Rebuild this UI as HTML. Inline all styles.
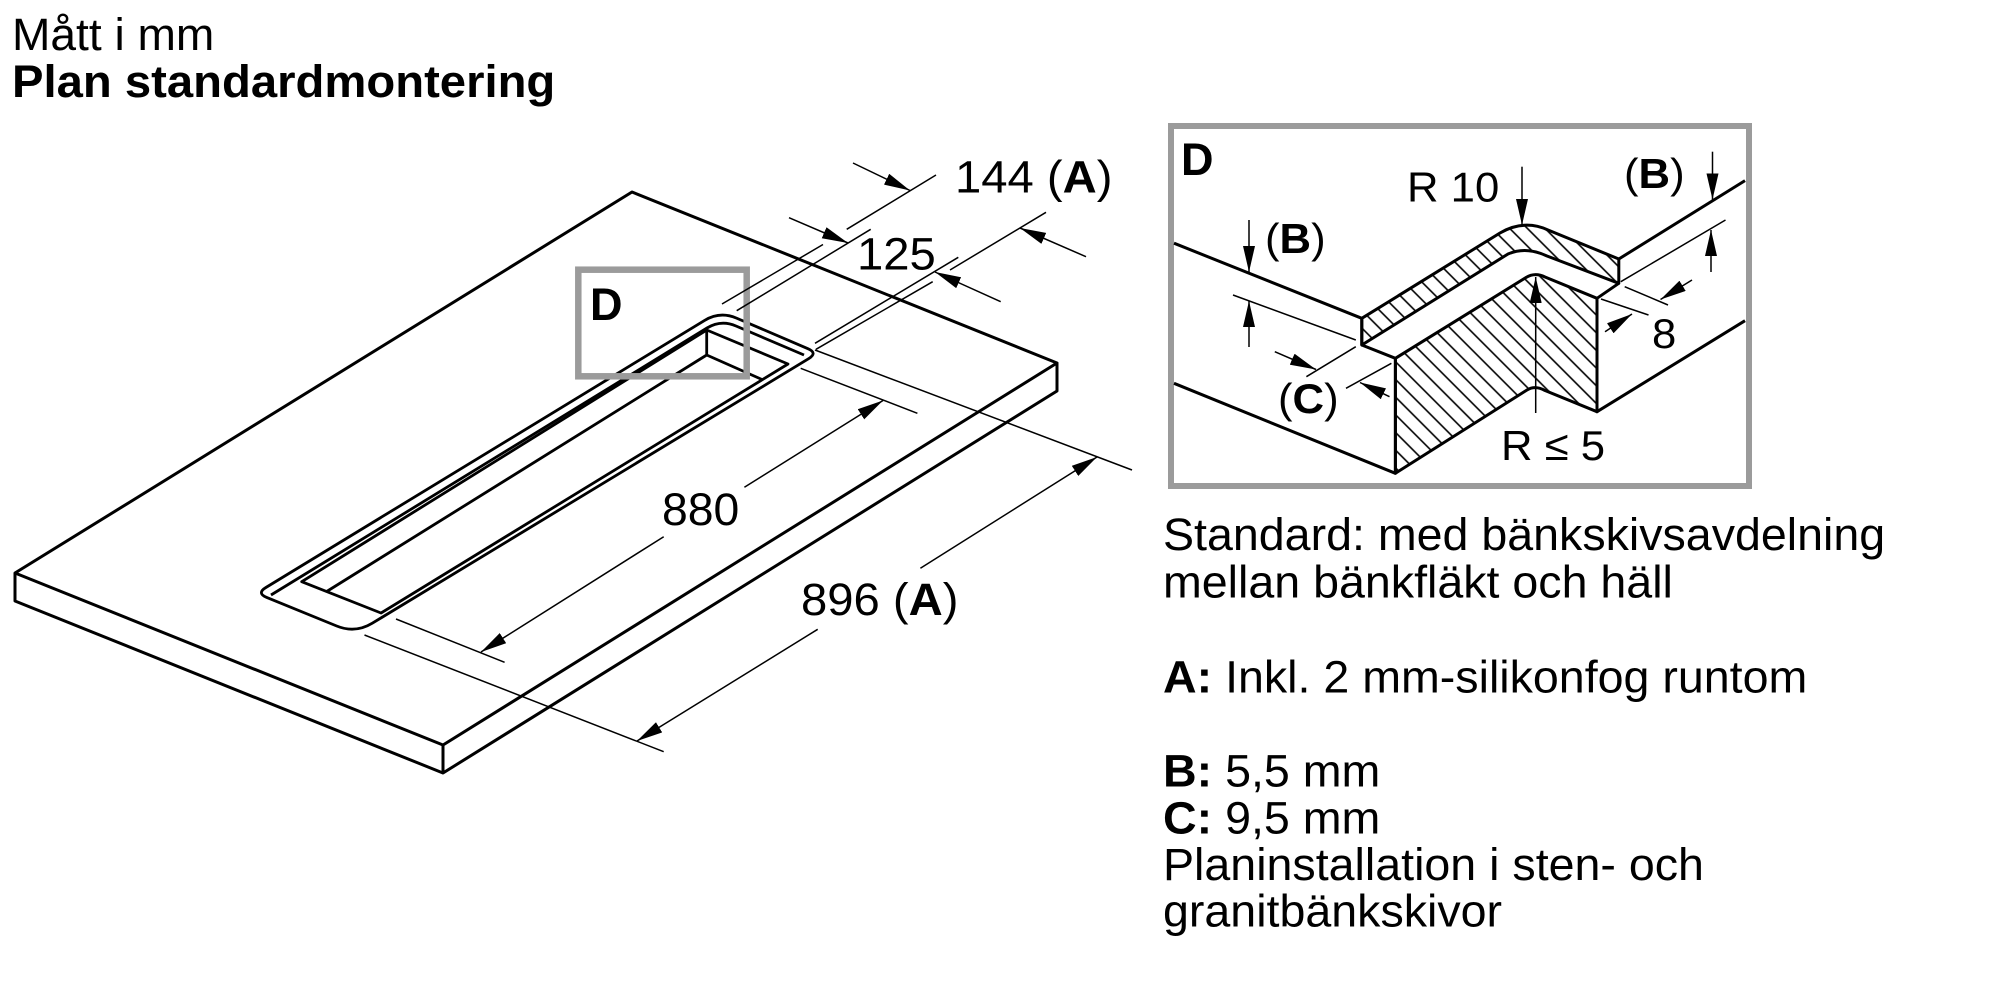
<!DOCTYPE html>
<html><head><meta charset="utf-8"><style>
html,body{margin:0;padding:0;background:#fff;}
svg{display:block}
text{font-family:"Liberation Sans",Arial,sans-serif;fill:#000}
</style></head><body>
<svg width="2000" height="1000" viewBox="0 0 2000 1000" xmlns="http://www.w3.org/2000/svg">
<defs>
<marker id="ah" viewBox="0 0 26 12" refX="26" refY="6" markerWidth="26" markerHeight="12" orient="auto" markerUnits="userSpaceOnUse"><path d="M0,0 L26,6 L0,12 Z" fill="#000"/></marker>
<pattern id="hatch" patternUnits="userSpaceOnUse" width="12.5" height="12.5" patternTransform="rotate(-45)"><line x1="6" y1="-2" x2="6" y2="15" stroke="#000" stroke-width="1.6"/></pattern>
</defs>
<rect width="2000" height="1000" fill="#fff"/>

<!-- Titles -->
<text transform="translate(12,50) scale(1.025,1)" font-size="45">Mått i mm</text>
<text transform="translate(12,97) scale(1.05,1)" font-size="45" font-weight="bold">Plan standardmontering</text>

<!-- Slab -->
<g fill="none" stroke="#000" stroke-width="3" stroke-linejoin="round">
<path d="M15,573 L632,192 L1057,363 L443,745 Z"/>
<path d="M15,573 L15,601 L443,773 L1057,391 L1057,363"/>
<path d="M443,745 L443,773"/>
</g>

<!-- Slot -->
<g fill="none" stroke="#000" stroke-width="2.8" stroke-linejoin="round">
<path d="M266.7,597.4 L336.7,626 Q355.2,633.6 372.3,623.2 L808.6,358.7 Q818,353 807.9,348.7 L736.5,318.1 Q720,311 704.6,320.4 L265.9,587.5 Q256.5,593.2 266.7,597.4 Z"/>
<path d="M271,595 L707,328 Q721,319.5 736,326 L804,355"/>
<path d="M301.7,581.7 L706.7,330 L788,364 L381,613 Z"/>
<path d="M706.7,330 L706.7,355 M326.7,591.5 L706.7,355 L762,379.5"/>
</g>

<!-- small D box -->
<rect x="578.3" y="269.7" width="168.4" height="106.6" fill="none" stroke="#9b9b9b" stroke-width="6.5"/>
<text x="590" y="320" font-size="45" font-weight="bold">D</text>

<!-- Dimension lines -->
<g fill="none" stroke="#000" stroke-width="1.5">
<!-- 144 -->
<path d="M722,304 L823,244.5 M846.7,229.3 L936,175"/>
<path d="M816,349.3 L932.7,281.7 M950,270 L1046,212.3"/>
<path d="M853,163 L910,190.5" marker-end="url(#ah)"/>
<path d="M1086,256.7 L1020,228" marker-end="url(#ah)"/>
<!-- 125 -->
<path d="M736.7,310.7 L870.7,229.3"/>
<path d="M815,343.3 L958.3,257.3"/>
<path d="M789,217.7 L848,243" marker-end="url(#ah)"/>
<path d="M1000.7,301.7 L935,272" marker-end="url(#ah)"/>
<!-- 880 -->
<path d="M800.7,368.3 L917.4,413.3"/>
<path d="M396,619 L504.6,662.3"/>
<path d="M744.4,487.3 L883,400.5" marker-end="url(#ah)"/>
<path d="M663.7,536.7 L481,652" marker-end="url(#ah)"/>
<!-- 896 -->
<path d="M815,350 L1132,470"/>
<path d="M364.5,635 L663.7,751.7"/>
<path d="M920.4,568.3 L1097,457" marker-end="url(#ah)"/>
<path d="M817.7,629.3 L637,741" marker-end="url(#ah)"/>
</g>

<text transform="translate(955,192.7) scale(1.05,1)" font-size="45">144 (<tspan font-weight="bold">A</tspan>)</text>
<text transform="translate(857,269.3) scale(1.05,1)" font-size="45">125</text>
<text transform="translate(662,525) scale(1.03,1)" font-size="45">880</text>
<text transform="translate(801,615) scale(1.05,1)" font-size="45">896 (<tspan font-weight="bold">A</tspan>)</text>

<!-- Big D box -->
<rect x="1171" y="126" width="578" height="360" fill="none" stroke="#9b9b9b" stroke-width="6"/>
<text x="1181" y="175" font-size="45" font-weight="bold">D</text>

<!-- hatched areas -->
<path d="M1361.8,318.3 L1500,233 Q1524,219 1548,230 L1618.8,259 L1618.8,283.3 L1547,256 Q1526,246 1508,254 L1361.8,345 Z" fill="url(#hatch)" stroke="#000" stroke-width="3" stroke-linejoin="round"/>
<path d="M1395.4,358.3 L1526,277.5 Q1535,272 1545,277 L1597,298.3 L1597,411.7 L1545,390.5 Q1535,385 1527,390 L1395.4,473.3 Z" fill="url(#hatch)" stroke="#000" stroke-width="3" stroke-linejoin="round"/>

<g fill="none" stroke="#000" stroke-width="3" stroke-linejoin="round">
<path d="M1174,243.2 L1361.8,318.3 L1361.8,345 L1395.4,358.3 L1395.4,473.3"/>
<path d="M1174,383.3 L1395.4,473.3"/>
<path d="M1618.8,259 L1745,180.6"/>
<path d="M1618.8,283.3 L1597,298.3 L1597,411.7 L1745,320.7"/>
</g>

<g fill="none" stroke="#000" stroke-width="1.5">
<path d="M1249,220 L1249,272" marker-end="url(#ah)"/>
<path d="M1233,295 L1355.8,340"/>
<path d="M1249,347 L1249,301" marker-end="url(#ah)"/>
<path d="M1274.8,351.7 L1316,369.5" marker-end="url(#ah)"/>
<path d="M1306.4,376.7 L1355.8,346.7"/>
<path d="M1389.5,396.7 L1360,382.5" marker-end="url(#ah)"/>
<path d="M1346,388.3 L1391.4,363.3"/>
<path d="M1522,166.7 L1522,225" marker-end="url(#ah)"/>
<path d="M1712.5,151.7 L1712.5,199.5" marker-end="url(#ah)"/>
<path d="M1620.8,281.7 L1725.5,220"/>
<path d="M1711,272 L1711,230" marker-end="url(#ah)"/>
<path d="M1624.7,286.7 L1668,305"/>
<path d="M1692,280 L1660.5,299.5" marker-end="url(#ah)"/>
<path d="M1601,299 L1648.5,315"/>
<path d="M1605,331.7 L1632,314" marker-end="url(#ah)"/>
<path d="M1535.7,413 L1535.7,277" marker-end="url(#ah)"/>
</g>

<text transform="translate(1265,253) scale(1.04,1)" font-size="42">(<tspan font-weight="bold">B</tspan>)</text>
<text transform="translate(1407,201.7) scale(1.04,1)" font-size="42">R 10</text>
<text transform="translate(1624,188) scale(1.04,1)" font-size="42">(<tspan font-weight="bold">B</tspan>)</text>
<text transform="translate(1278,413) scale(1.04,1)" font-size="42">(<tspan font-weight="bold">C</tspan>)</text>
<text transform="translate(1652,348) scale(1.04,1)" font-size="42">8</text>
<text transform="translate(1501,460) scale(1.04,1)" font-size="42">R ≤ 5</text>

<!-- Right text -->
<g font-size="45">
<text transform="translate(1163,550) scale(1.035,1)">Standard: med bänkskivsavdelning</text>
<text transform="translate(1163,597.3) scale(1.035,1)">mellan bänkfläkt och häll</text>
<text transform="translate(1163,692.7) scale(1.035,1)"><tspan font-weight="bold">A:</tspan> Inkl. 2 mm-silikonfog runtom</text>
<text transform="translate(1163,786.7) scale(1.035,1)"><tspan font-weight="bold">B:</tspan> 5,5 mm</text>
<text transform="translate(1163,833.3) scale(1.035,1)"><tspan font-weight="bold">C:</tspan> 9,5 mm</text>
<text transform="translate(1163,880) scale(1.035,1)">Planinstallation i sten- och</text>
<text transform="translate(1163,926.7) scale(1.035,1)">granitbänkskivor</text>
</g>
</svg>
</body></html>
